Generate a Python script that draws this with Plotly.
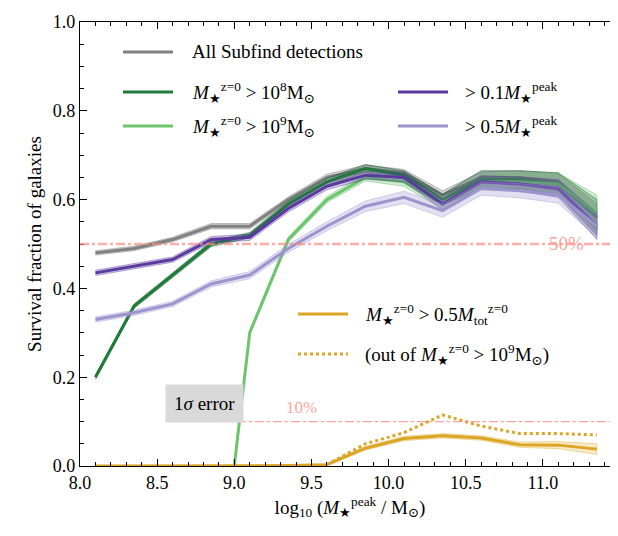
import plotly.graph_objects as go

x = [8.1, 8.35, 8.6, 8.85, 9.1, 9.35, 9.6, 9.85, 10.1, 10.35, 10.6, 10.85, 11.1, 11.35]
all_det = [0.48, 0.49, 0.51, 0.54, 0.54, 0.60, 0.65, 0.67, 0.66, 0.61, 0.65, 0.65, 0.64, 0.56]
all_err = [0.005, 0.005, 0.005, 0.006, 0.006, 0.006, 0.007, 0.008, 0.008, 0.01, 0.012, 0.015, 0.02, 0.03]
gt1e8 = [0.20, 0.36, 0.43, 0.50, 0.52, 0.59, 0.64, 0.67, 0.655, 0.60, 0.645, 0.645, 0.635, 0.56]
gt1e8_err = [0.005, 0.005, 0.005, 0.006, 0.006, 0.007, 0.008, 0.009, 0.01, 0.012, 0.02, 0.02, 0.025, 0.04]
x9 = [9.0, 9.1, 9.35, 9.6, 9.85, 10.1, 10.35, 10.6, 10.85, 11.1, 11.35]
gt1e9 = [0.0, 0.30, 0.51, 0.60, 0.65, 0.64, 0.59, 0.64, 0.64, 0.635, 0.57]
gt1e9_err = [0.005, 0.005, 0.006, 0.007, 0.008, 0.01, 0.012, 0.015, 0.02, 0.025, 0.04]
gt01 = [0.435, 0.45, 0.465, 0.51, 0.515, 0.58, 0.63, 0.655, 0.65, 0.59, 0.64, 0.635, 0.625, 0.54]
gt01_err = [0.006, 0.006, 0.006, 0.007, 0.007, 0.008, 0.008, 0.009, 0.01, 0.012, 0.014, 0.016, 0.02, 0.03]
gt05 = [0.33, 0.345, 0.365, 0.41, 0.43, 0.49, 0.54, 0.585, 0.605, 0.575, 0.625, 0.62, 0.61, 0.54]
gt05_err = [0.006, 0.006, 0.006, 0.007, 0.008, 0.009, 0.01, 0.012, 0.014, 0.015, 0.015, 0.016, 0.018, 0.025]
xo = [8.1, 8.35, 8.6, 8.85, 9.1, 9.35, 9.6, 9.85, 10.1, 10.35, 10.6, 10.85, 11.1, 11.35]
frac = [0.0, 0.0, 0.0, 0.0, 0.0, 0.001, 0.003, 0.04, 0.062, 0.068, 0.063, 0.048, 0.047, 0.038]
frac_err = [0.001, 0.001, 0.001, 0.001, 0.001, 0.001, 0.002, 0.004, 0.005, 0.005, 0.005, 0.006, 0.008, 0.012]
xd = [9.6, 9.85, 10.1, 10.35, 10.6, 10.85, 11.1, 11.35]
frac9 = [0.003, 0.05, 0.075, 0.115, 0.09, 0.073, 0.073, 0.07]

fig = go.Figure()


def band(xs, ys, es, fill, edge):
    up = [a + b for a, b in zip(ys, es)]
    lo = [a - b for a, b in zip(ys, es)]
    fig.add_trace(go.Scatter(x=xs + xs[::-1], y=up + lo[::-1], fill="toself", fillcolor=fill,
                             line=dict(color=edge, width=0.8), mode="lines", hoverinfo="skip",
                             showlegend=False))


def line(xs, ys, color, width=3, dash="solid"):
    fig.add_trace(go.Scatter(x=xs, y=ys, mode="lines", line=dict(color=color, width=width, dash=dash),
                             showlegend=False))


band(x, all_det, all_err, "rgba(128,128,128,0.35)", "rgba(128,128,128,0.6)")
line(x, all_det, "#808080")
band(x, gt1e8, gt1e8_err, "rgba(40,90,60,0.35)", "rgba(30,110,60,0.7)")
line(x, gt1e8, "#1e7b3a")
band(x9, gt1e9, gt1e9_err, "rgba(110,190,110,0.3)", "rgba(110,190,110,0.6)")
line(x9, gt1e9, "#6cc46c")
band(x, gt01, gt01_err, "rgba(90,60,160,0.3)", "rgba(90,60,160,0.5)")
line(x, gt01, "#5b3aa0")
band(x, gt05, gt05_err, "rgba(160,150,210,0.3)", "rgba(160,150,210,0.5)")
line(x, gt05, "#9c94cc")
band(xo, frac, frac_err, "rgba(225,170,40,0.25)", "rgba(225,170,40,0.5)")
line(xo, frac, "#dba526")
line(xd, frac9, "#dba526", width=3, dash="dot")

fig.add_hline(y=0.5, line=dict(color="rgba(250,140,130,0.7)", width=2.5, dash="dashdot"))
fig.add_shape(type="line", xref="x", yref="y", x0=8.9, x1=11.5, y0=0.1, y1=0.1,
              line=dict(color="rgba(250,140,130,0.8)", width=1.3, dash="dashdot"))

font = dict(family="Liberation Serif, DejaVu Serif, serif", size=19, color="black")


def px(v):
    return (v - 72) / 540


def py(v):
    return (458 - v) / 444


legend = [
    (115, 165, 44, "#808080", "solid", "All Subfind detections", 182),
    (115, 165, 84, "#1e7b3a", "solid", "<i>M</i><sub>★</sub><sup>z=0</sup> &gt; 10<sup>8</sup>M<sub>⊙</sub>", 182),
    (115, 165, 118, "#6cc46c", "solid", "<i>M</i><sub>★</sub><sup>z=0</sup> &gt; 10<sup>9</sup>M<sub>⊙</sub>", 182),
    (390, 440, 84, "#5b3aa0", "solid", "&gt; 0.1<i>M</i><sub>★</sub><sup>peak</sup>", 455),
    (390, 440, 118, "#9c94cc", "solid", "&gt; 0.5<i>M</i><sub>★</sub><sup>peak</sup>", 455),
    (290, 340, 306, "#dba526", "solid", "<i>M</i><sub>★</sub><sup>z=0</sup> &gt; 0.5<i>M</i><sub>tot</sub><sup>z=0</sup>", 355),
    (290, 340, 346, "#dba526", "dot", "(out of <i>M</i><sub>★</sub><sup>z=0</sup> &gt; 10<sup>9</sup>M<sub>⊙</sub>)", 355),
]
for x0, x1, yy, c, d, t, tx in legend:
    fig.add_shape(type="line", xref="paper", yref="paper", x0=px(x0), x1=px(x1), y0=py(yy), y1=py(yy),
                  line=dict(color=c, width=3, dash=d))
    fig.add_annotation(xref="paper", yref="paper", x=px(tx), y=py(yy), text=t, showarrow=False,
                       xanchor="left", yanchor="middle", font=font)

fig.add_annotation(xref="paper", yref="paper", x=px(157), y=py(415), text="1<i>σ</i> error",
                   showarrow=False, font=font, bgcolor="#d9d9d9", borderpad=8)
fig.add_annotation(xref="paper", yref="paper", x=px(578), y=py(235), text="50%", showarrow=False,
                   font=dict(family=font["family"], size=19, color="rgba(250,140,130,0.8)"))
fig.add_annotation(xref="paper", yref="paper", x=px(293), y=py(411), text="10%", showarrow=False,
                   font=dict(family=font["family"], size=17, color="rgba(250,140,130,0.8)"),
                   bgcolor="white")

axis = dict(showgrid=False, zeroline=False, showline=True, linecolor="black", linewidth=1.2,
            mirror="ticks", ticks="inside", ticklen=7, tickcolor="black", automargin=False,
            tickfont=dict(family=font["family"], size=18, color="black"))
fig.update_xaxes(range=[8.0, 11.5], dtick=0.5, tickformat=".1f",
                 minor=dict(ticks="inside", ticklen=4, dtick=0.1, tickcolor="black"),
                 title=dict(text="log<sub>10</sub> (<i>M</i><sub>★</sub><sup>peak</sup> / M<sub>⊙</sub>)",
                            font=font, standoff=8), **axis)
fig.update_yaxes(range=[0, 1.0], dtick=0.2, tickformat=".1f",
                 minor=dict(ticks="inside", ticklen=4, dtick=0.05, tickcolor="black"),
                 title=dict(text="Survival fraction of galaxies", font=font, standoff=6), **axis)
fig.update_layout(width=618, height=536, margin=dict(l=72, r=6, t=14, b=78),
                  plot_bgcolor="white", paper_bgcolor="white")
fig.write_html("out.html")
